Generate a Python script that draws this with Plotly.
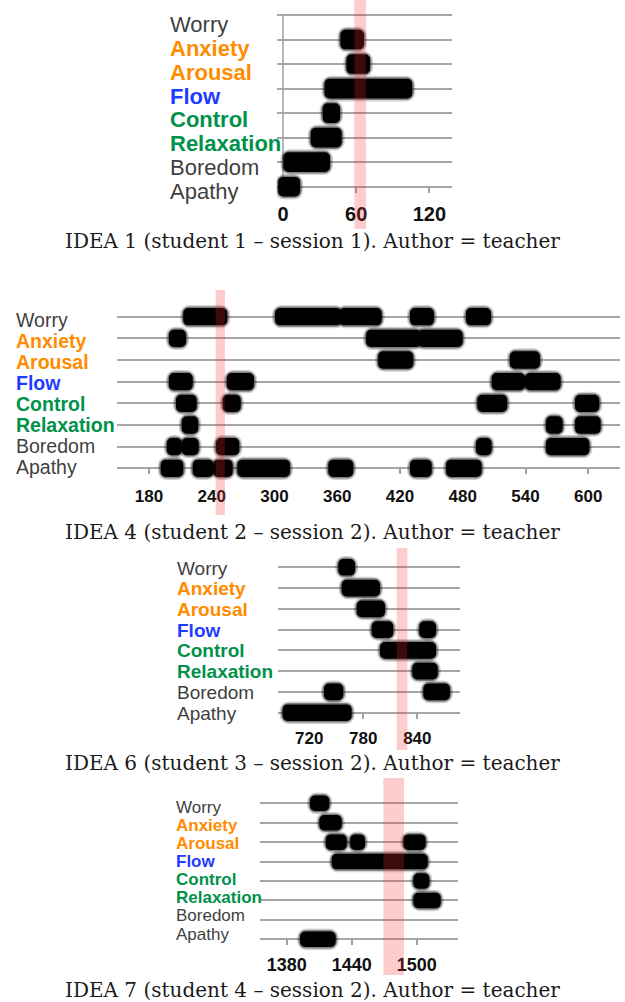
import plotly.graph_objects as go

W, H = 625, 1002

# Emotional states, bottom row first (row index 0 = Apathy)
states = ["Apathy", "Boredom", "Relaxation", "Control", "Flow", "Arousal", "Anxiety", "Worry"]
state_color = {
    "Worry": "#3f3f3f", "Anxiety": "#ff8c00", "Arousal": "#ff8c00", "Flow": "#1f3cff",
    "Control": "#00914a", "Relaxation": "#00914a", "Boredom": "#3f3f3f", "Apathy": "#3f3f3f",
}
state_bold = {"Anxiety", "Arousal", "Flow", "Control", "Relaxation"}

# IDEA 1 (seconds)
idea1_state = ["Anxiety", "Arousal", "Flow", "Control", "Relaxation", "Boredom", "Apathy"]
idea1_start = [47, 52, 34, 32.5, 22.7, 0.3, -4]
idea1_end = [66.4, 71.3, 106, 46.7, 48.1, 38.5, 14]
idea1_band = [58.5, 68]
idea1_ticks = [0, 60, 120]

# IDEA 4
idea4_state = ["Worry", "Worry", "Worry", "Worry", "Worry",
               "Anxiety", "Anxiety", "Anxiety",
               "Arousal", "Arousal",
               "Flow", "Flow", "Flow", "Flow",
               "Control", "Control", "Control", "Control",
               "Relaxation", "Relaxation", "Relaxation",
               "Boredom", "Boredom", "Boredom", "Boredom", "Boredom",
               "Apathy", "Apathy", "Apathy", "Apathy", "Apathy", "Apathy", "Apathy"]
idea4_start = [212.7, 300.5, 362, 429.5, 483,
               199, 387.5, 437,
               399, 525,
               199, 254.3, 507.6, 539.5,
               205.8, 250.5, 493.9, 587.3,
               211.3, 559.5, 587.3,
               197, 211.3, 244, 492.6, 559.5,
               191.2, 221.8, 241.5, 264.4, 351.4, 429.5, 464]
idea4_end = [254.8, 364, 402.5, 452.5, 507,
             215.4, 440, 479.9,
             432.7, 553.8,
             221.8, 280.4, 539.5, 573.6,
             225.6, 267.7, 522.5, 610.5,
             227, 575.5, 611.8,
             211.3, 227.5, 266.3, 507.6, 601,
             212.8, 241.5, 260, 314.8, 375.3, 450.3, 498]
idea4_band = [243.7, 252.6]
idea4_ticks = [180, 240, 300, 360, 420, 480, 540, 600]

# IDEA 6
idea6_state = ["Worry", "Anxiety", "Arousal", "Flow", "Flow", "Control",
               "Relaxation", "Boredom", "Boredom", "Apathy"]
idea6_start = [752.2, 756, 772.7, 789.3, 842.2, 798.6, 834.4, 736.3, 846.7, 690.4]
idea6_end = [770.8, 798.6, 804.1, 813.3, 860.8, 860.8, 862.7, 757.8, 876.3, 767.1]
idea6_band = [817.1, 828.9]
idea6_ticks = [720, 780, 840]

# IDEA 7
idea7_state = ["Worry", "Anxiety", "Arousal", "Arousal", "Arousal", "Flow",
               "Control", "Relaxation", "Apathy"]
idea7_start = [1401.5, 1410.1, 1416, 1438.5, 1487.7, 1421.5, 1496.9, 1496.9, 1392.3]
idea7_end = [1419.3, 1430.8, 1435.4, 1452.3, 1508.3, 1510.2, 1511.7, 1522.2, 1425.2]
idea7_band = [1469.2, 1488.3]
idea7_ticks = [1380, 1440, 1500]

captions = [
    "IDEA 1 (student 1 \u2013 session 1). Author = teacher",
    "IDEA 4 (student 2 \u2013 session 2). Author = teacher",
    "IDEA 6 (student 3 \u2013 session 2). Author = teacher",
    "IDEA 7 (student 4 \u2013 session 2). Author = teacher",
]

# Pixel layout of each panel
panels = [
    dict(state=idea1_state, start=idea1_start, end=idea1_end, band=idea1_band, ticks=idea1_ticks,
         xpx=(276.7, 451.7), xrange=(-5.2, 138.3), rows_px=(15, 186.7),
         label_x=168, label_px=(25, 191), label_size=22, tick_size=20, standoff=4,
         band_px=(0, 229), caption_y=241, axis_line=True),
    dict(state=idea4_state, start=idea4_start, end=idea4_end, band=idea4_band, ticks=idea4_ticks,
         xpx=(116.7, 620), xrange=(149.1, 630.3), rows_px=(316.7, 468.3),
         label_x=14, label_px=(320, 467), label_size=19.5, tick_size=17, standoff=7,
         band_px=(290, 515), caption_y=532, axis_line=False),
    dict(state=idea6_state, start=idea6_start, end=idea6_end, band=idea6_band, ticks=idea6_ticks,
         xpx=(278.3, 460), xrange=(685.6, 887.4), rows_px=(567.3, 712.7),
         label_x=175, label_px=(568, 713), label_size=19, tick_size=17, standoff=5,
         band_px=(548, 750), caption_y=763, axis_line=False),
    dict(state=idea7_state, start=idea7_start, end=idea7_end, band=idea7_band, ticks=idea7_ticks,
         xpx=(260, 458.3), xrange=(1355.3, 1538.4), rows_px=(803.3, 939.3),
         label_x=174, label_px=(807, 934), label_size=17, tick_size=18, standoff=4,
         band_px=(778, 975), caption_y=990, axis_line=False),
]

ROW_PAD = 0.6
BAR_W = 0.8
# soft edge rings around each block: (extra pixels, opacity)
HALOS = [(3.0, 0.18), (1.5, 0.4)]

fig = go.Figure()
layout = dict(
    width=W, height=H, margin=dict(l=0, r=0, t=0, b=0),
    paper_bgcolor="white", plot_bgcolor="rgba(0,0,0,0)",
    showlegend=False, barmode="overlay",
    annotations=[], shapes=[],
)

def py(p):
    return 1 - p / H

for i, p in enumerate(panels, start=1):
    xa = "x" if i == 1 else f"x{i}"
    ya = "y" if i == 1 else f"y{i}"
    top, bot = p["rows_px"]
    s = (bot - top) / 7.0
    ppu = (p["xpx"][1] - p["xpx"][0]) / (p["xrange"][1] - p["xrange"][0])

    rows = [states.index(st) for st in p["state"]]
    for grow, alpha in HALOS:
        d = grow / ppu
        fig.add_trace(go.Bar(
            orientation="h", y=rows, base=[b - d for b in p["start"]],
            x=[e - b + 2 * d for b, e in zip(p["start"], p["end"])],
            width=BAR_W + 2 * grow / s, xaxis=xa, yaxis=ya,
            marker=dict(color=f"rgba(0,0,0,{alpha})", cornerradius=6 + grow,
                        line=dict(width=0)),
            hoverinfo="skip",
        ))
    fig.add_trace(go.Bar(
        orientation="h", y=rows, base=p["start"],
        x=[e - b for b, e in zip(p["start"], p["end"])],
        width=BAR_W, xaxis=xa, yaxis=ya,
        marker=dict(color="black", cornerradius=5, line=dict(width=0)),
        hoverinfo="skip",
    ))

    layout["xaxis" if i == 1 else f"xaxis{i}"] = dict(
        domain=[p["xpx"][0] / W, p["xpx"][1] / W], range=list(p["xrange"]),
        anchor="free", position=py(bot), layer="below traces",
        tickvals=p["ticks"], ticks="outside", ticklen=5, tickwidth=1.5, tickcolor="#a0a0a0",
        tickfont=dict(family="Liberation Sans, Arial, sans-serif", size=p["tick_size"],
                      color="#111111", weight="bold"),
        ticklabelstandoff=p["standoff"],
        showgrid=False, zeroline=False, showline=False, fixedrange=True,
    )
    layout["yaxis" if i == 1 else f"yaxis{i}"] = dict(
        domain=[py(bot + ROW_PAD * s), py(top - ROW_PAD * s)],
        range=[-ROW_PAD, 7 + ROW_PAD], anchor=xa, layer="below traces",
        tickvals=list(range(8)), showticklabels=False, ticks="",
        showgrid=True, gridcolor="#a6a6a6", gridwidth=1.6,
        zeroline=False, showline=False, fixedrange=True,
    )

    # highlighted moment
    layout["shapes"].append(dict(
        type="rect", xref=xa, yref="paper",
        x0=p["band"][0], x1=p["band"][1], y0=py(p["band_px"][1]), y1=py(p["band_px"][0]),
        fillcolor="rgba(245,40,40,0.24)", line=dict(width=0), layer="above",
    ))
    if p["axis_line"]:
        layout["shapes"].append(dict(
            type="line", xref=xa, yref=ya, x0=0, x1=0, y0=-0.25, y1=7,
            line=dict(color="#a6a6a6", width=1.6), layer="below",
        ))

    # state labels
    lt, lb = p["label_px"]
    for k, st in enumerate(reversed(states)):
        ypx = lt + (lb - lt) * k / 7.0
        layout["annotations"].append(dict(
            text=st, xref="paper", yref="paper", x=p["label_x"] / W, y=py(ypx),
            xanchor="left", yanchor="middle", showarrow=False,
            font=dict(family="Liberation Sans, Arial, sans-serif", size=p["label_size"],
                      color=state_color[st], weight="bold" if st in state_bold else "normal"),
        ))

    layout["annotations"].append(dict(
        text=captions[i - 1], xref="paper", yref="paper", x=312 / W, y=py(p["caption_y"]),
        xanchor="center", yanchor="middle", showarrow=False,
        font=dict(family="DejaVu Serif, serif", size=20, color="#1a1a1a"),
    ))

fig.update_layout(**layout)
fig.write_html("out.html")
